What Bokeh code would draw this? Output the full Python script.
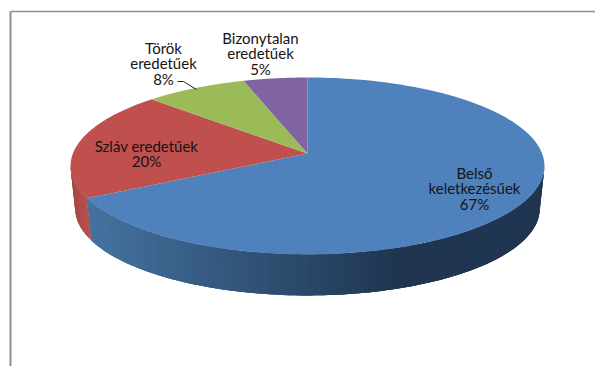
import numpy as np
from bokeh.core.properties import value
from bokeh.embed import file_html
from bokeh.models import ColumnDataSource, Range1d
from bokeh.plotting import figure
from bokeh.resources import INLINE

# Share of each word-origin group, clockwise from twelve o'clock
categories = ["Belső keletkezésűek", "Szláv eredetűek", "Török eredetűek", "Bizonytalan eredetűek"]
shares = [67, 20, 8, 5]
top_colors = ["#4F81BD", "#C0504D", "#9BBB59", "#8064A2"]
wall_light = ["#44729F", "#B5504D", "#9BBB59", "#8064A2"]
wall_dark = ["#1F3550", "#A0433F", "#9BBB59", "#8064A2"]
label_lines = [["Belső", "keletkezésűek", "67%"], ["Szláv eredetűek", "20%"],
               ["Török", "eredetűek", "8%"], ["Bizonytalan", "eredetűek", "5%"]]
label_anchor = [(474, 172), (146, 145), (163, 47), (260, 37)]

# Projection of the tilted disc onto the page
APEX_X, APEX_Y = 307.0, 153.0
TILT = 0.141
SCALE_X, SCALE_Y = 234.6, 86.7
WALL_SHRINK, WALL_DROP = 0.98, 43.0


def project(angle, shrink=1.0, drop=0.0):
    u, v = np.sin(angle), np.cos(angle)
    d = 1 + TILT * v
    return APEX_X + shrink * SCALE_X * u / d, APEX_Y + drop - shrink * SCALE_Y * v / d


def mix(a, b, t):
    ca = [int(a[i:i + 2], 16) for i in (1, 3, 5)]
    cb = [int(b[i:i + 2], 16) for i in (1, 3, 5)]
    return "#%02X%02X%02X" % tuple(round(x + (y - x) * t) for x, y in zip(ca, cb))


p = figure(width=595, height=366, output_backend="svg", toolbar_location=None,
           x_range=Range1d(0, 595), y_range=Range1d(366, 0),
           min_border=0, outline_line_color=None, background_fill_color="white")
p.axis.visible = False
p.grid.visible = False

# Frame: only the top and left edges are visible
p.line([10, 595], [11, 11], line_color="#8E8E8E", line_width=1.5)
p.line([10, 10], [11, 366], line_color="#8E8E8E", line_width=2)

edges = 2 * np.pi * np.cumsum([0] + shares) / sum(shares)

# Outer wall, split into strips for the shading along the rim. Each strip runs
# on under the ones painted after it, so no seams show between them.
rim_start = np.arccos(-TILT)
rim_end = 2 * np.pi - rim_start
wx, wy, wc = [], [], []
for i, (a0, a1) in enumerate(zip(edges[:-1], edges[1:])):
    lo, hi = max(a0, rim_start), min(a1, rim_end)
    if lo >= hi:
        continue
    ticks = np.linspace(lo, hi, 2 + int((hi - lo) * 40))
    for j, s0 in enumerate(ticks[:-1]):
        run = ticks[j:j + 4]
        xt, yt = project(run)
        xb, yb = project(run[::-1], WALL_SHRINK, WALL_DROP)
        wx.append(list(xt) + list(xb))
        wy.append(list(yt) + list(yb))
        mid = float(project(np.array([(s0 + ticks[j + 1]) / 2]))[0][0])
        if i == 0:
            t = np.clip((90 - mid) / (90 - 400), 0, 1)
        else:
            t = (s0 - lo) / (hi - lo)
        wc.append(mix(wall_light[i], wall_dark[i], float(t)))
p.patches(wx, wy, fill_color=wc, line_color=None)

# Top face of each slice
fx, fy = [], []
for a0, a1 in zip(edges[:-1], edges[1:]):
    arc = np.linspace(a0, a1, 160)
    ax, ay = project(arc)
    fx.append([APEX_X] + list(ax))
    fy.append([APEX_Y] + list(ay))
p.patches(fx, fy, fill_color=top_colors, line_color=None)

# Leader from the "Török" label to its slice
p.line([177, 183, 196], [81, 81, 89], line_color="#202020", line_width=1)

# Slice labels
LINE_STEP = 15.7
tx, ty, tt = [], [], []
for lines, (cx, cy) in zip(label_lines, label_anchor):
    for k, line in enumerate(lines):
        tx.append(cx)
        ty.append(cy + k * LINE_STEP)
        tt.append(line)
p.text("x", "y", text="t", source=ColumnDataSource(dict(x=tx, y=ty, t=tt)),
       text_font=value("Lato"), text_font_size="15px", text_color="#141414",
       text_align="center", text_baseline="middle")

open("out.html", "w").write(file_html(p, INLINE))
